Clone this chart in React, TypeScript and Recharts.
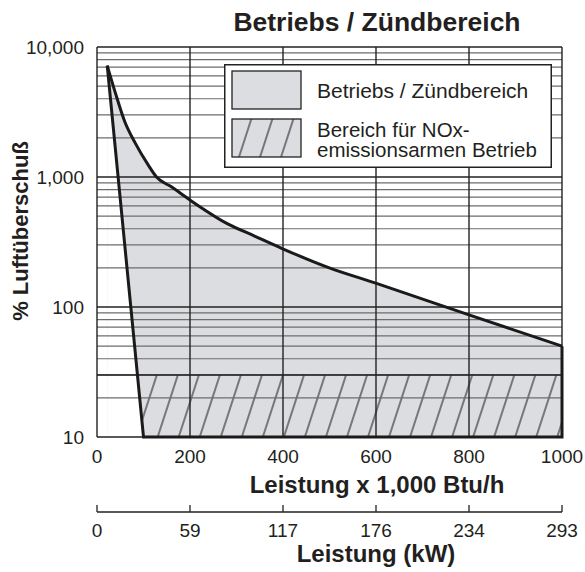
import React from "react";
import {
  ComposedChart, Area, Line, XAxis, YAxis, ReferenceLine, Legend, Customized,
} from "recharts";

// upper boundary of the operating range (x = 1,000 Btu/h, y = % excess air)
const upperX = [22, 39, 60, 82, 110, 128, 160, 200, 279, 340, 397, 501, 601, 800, 1000];
const upperY = [7200, 4500, 2650, 1830, 1240, 1000, 840, 665, 440, 350, 283, 199, 152, 87, 50];

// left boundary (straight line down to the axis)
const leftX = [22, 100];
const leftY = [7200, 10];

// outline: right edge, bottom edge, left edge
const outlineX = [1000, 1000, 100, 22];
const outlineY = [50, 10, 10, 7200];

// low-NOx band
const noxX = [80, 1000];
const noxY = [30, 30];

const btuTicks = [0, 200, 400, 600, 800, 1000];
const kwLabels = ["0", "59", "117", "176", "234", "293"];
const yTicks = [10, 100, 1000, 10000];
const minorY = [
  20, 30, 40, 50, 60, 70, 80, 90,
  200, 300, 400, 500, 600, 700, 800, 900,
  2000, 3000, 4000, 5000, 6000, 7000, 8000, 9000,
];
const legendLabels = ["Betriebs / Zündbereich", "Bereich für NOx-", "emissionsarmen Betrieb"];

const pts = (xs: number[], ys: number[]) => xs.map((x, i) => ({ x, y: ys[i] }));
const upperData = pts(upperX, upperY);
const leftData = pts(leftX, leftY);
const outlineData = pts(outlineX, outlineY);
const noxData = pts(noxX, noxY);

const TEXT = "#231f20";
const GRAY = "#dcdde0";
const FONT = '"Liberation Sans", Arial, Helvetica, sans-serif';

function KwTick(props: any) {
  const { x, y, index } = props;
  return (
    <g>
      <line x1={x} x2={x} y1={y} y2={y - 7} stroke="#222" strokeWidth={1.3} />
      <text x={x} y={y + 25} textAnchor="middle" fontSize={19} fill={TEXT}>
        {kwLabels[index]}
      </text>
    </g>
  );
}

function LegendBox() {
  return (
    <svg width={330} height={106} style={{ display: "block" }}>
      <defs>
        <pattern id="hatchLegend" patternUnits="userSpaceOnUse" width="20" height="20" patternTransform="rotate(18)">
          <line x1="3" y1="0" x2="3" y2="20" stroke="#222" strokeWidth="1.1" />
        </pattern>
      </defs>
      <rect x={0.75} y={0.75} width={326.5} height={102.5} fill="#fff" stroke="#222" strokeWidth={1.5} />
      <rect x={8} y={7} width={69} height={38} fill={GRAY} stroke="#222" strokeWidth={1.3} />
      <rect x={8} y={55} width={69} height={38} fill={GRAY} />
      <rect x={8} y={55} width={69} height={38} fill="url(#hatchLegend)" stroke="#222" strokeWidth={1.3} />
      <text x={93} y={34} fontSize={21} fill={TEXT}>{legendLabels[0]}</text>
      <text x={93} y={73} fontSize={20.5} fill={TEXT}>
        <tspan x={93} y={73}>{legendLabels[1]}</tspan>
        <tspan x={93} y={93}>{legendLabels[2]}</tspan>
      </text>
    </svg>
  );
}

function Titles() {
  return (
    <g fill={TEXT} fontWeight="bold">
      <text x={377} y={31} textAnchor="middle" fontSize={26.5}>Betriebs / Zündbereich</text>
      <text x={377} y={493} textAnchor="middle" fontSize={24}>Leistung x 1,000 Btu/h</text>
      <text x={376} y={562} textAnchor="middle" fontSize={24}>Leistung (kW)</text>
      <text transform="translate(28,231) rotate(-90)" textAnchor="middle" fontSize={22}>% Luftüberschuß</text>
    </g>
  );
}

export default function App() {
  return (
    <div style={{ position: "absolute", left: 0, top: 0, width: 585, height: 572, background: "#fff", fontFamily: FONT }}>
      <ComposedChart width={585} height={572} margin={{ top: 47, right: 23, bottom: 0, left: 0 }}>
        <defs>
          <pattern id="hatch" patternUnits="userSpaceOnUse" width="20" height="20" patternTransform="rotate(18)">
            <line x1="5" y1="0" x2="5" y2="20" stroke="#222" strokeWidth="1.1" />
          </pattern>
        </defs>
        <XAxis
          type="number"
          dataKey="x"
          domain={[0, 1000]}
          ticks={btuTicks}
          interval={0}
          height={75}
          axisLine={false}
          tickLine={false}
          tickSize={0}
          tickMargin={13}
          tick={{ fontSize: 19, fill: TEXT }}
        />
        <XAxis
          xAxisId="kw"
          type="number"
          dataKey="x"
          domain={[0, 1000]}
          ticks={btuTicks}
          interval={0}
          height={60}
          axisLine={{ stroke: "#222", strokeWidth: 1.3 }}
          tickLine={false}
          tickSize={0}
          tickMargin={0}
          tick={<KwTick />}
        />
        <YAxis
          type="number"
          scale="log"
          domain={[10, 10000]}
          ticks={yTicks}
          interval={0}
          width={97}
          axisLine={false}
          tickLine={false}
          tickMargin={7}
          tick={{ fontSize: 19, fill: TEXT }}
          tickFormatter={(v: number) => v.toLocaleString("en-US")}
        />

        <Area data={upperData} dataKey="y" type="monotone" fill={GRAY} fillOpacity={1} stroke="none"
          baseValue={10} isAnimationActive={false} legendType="none" />
        <Area data={noxData} dataKey="y" type="linear" fill="url(#hatch)" fillOpacity={1} stroke="none"
          baseValue={10} isAnimationActive={false} legendType="none" />
        <Area data={leftData} dataKey="y" type="linear" fill="#fff" fillOpacity={1} stroke="none"
          baseValue={10} isAnimationActive={false} legendType="none" />

        {minorY.map((v) => (
          <ReferenceLine key={"m" + v} y={v} stroke="#6d6d6d" strokeWidth={1.2} />
        ))}
        {yTicks.map((v) => (
          <ReferenceLine key={"y" + v} y={v} stroke="#222" strokeWidth={1.4} />
        ))}
        {btuTicks.map((v) => (
          <ReferenceLine key={"x" + v} x={v} stroke="#222" strokeWidth={1.4} />
        ))}
        <ReferenceLine y={30} stroke="#222" strokeWidth={1.4} />

        <Line data={upperData} dataKey="y" type="monotone" stroke="#1a1a1a" strokeWidth={3}
          dot={false} activeDot={false} isAnimationActive={false} legendType="none" />
        <Line data={outlineData} dataKey="y" type="linear" stroke="#1a1a1a" strokeWidth={3}
          dot={false} activeDot={false} isAnimationActive={false} legendType="none" />
        {/* same outline on the kW axis so that axis gets a domain and ticks */}
        <Line xAxisId="kw" data={outlineData} dataKey="y" type="linear" stroke="none" strokeWidth={0}
          dot={false} activeDot={false} isAnimationActive={false} legendType="none" />

        <Legend
          content={() => <LegendBox />}
          layout="vertical"
          align="center"
          verticalAlign="middle"
          wrapperStyle={{ left: 224, top: 64, width: 330, height: 106 }}
        />
        <Customized component={Titles} />
      </ComposedChart>
    </div>
  );
}
